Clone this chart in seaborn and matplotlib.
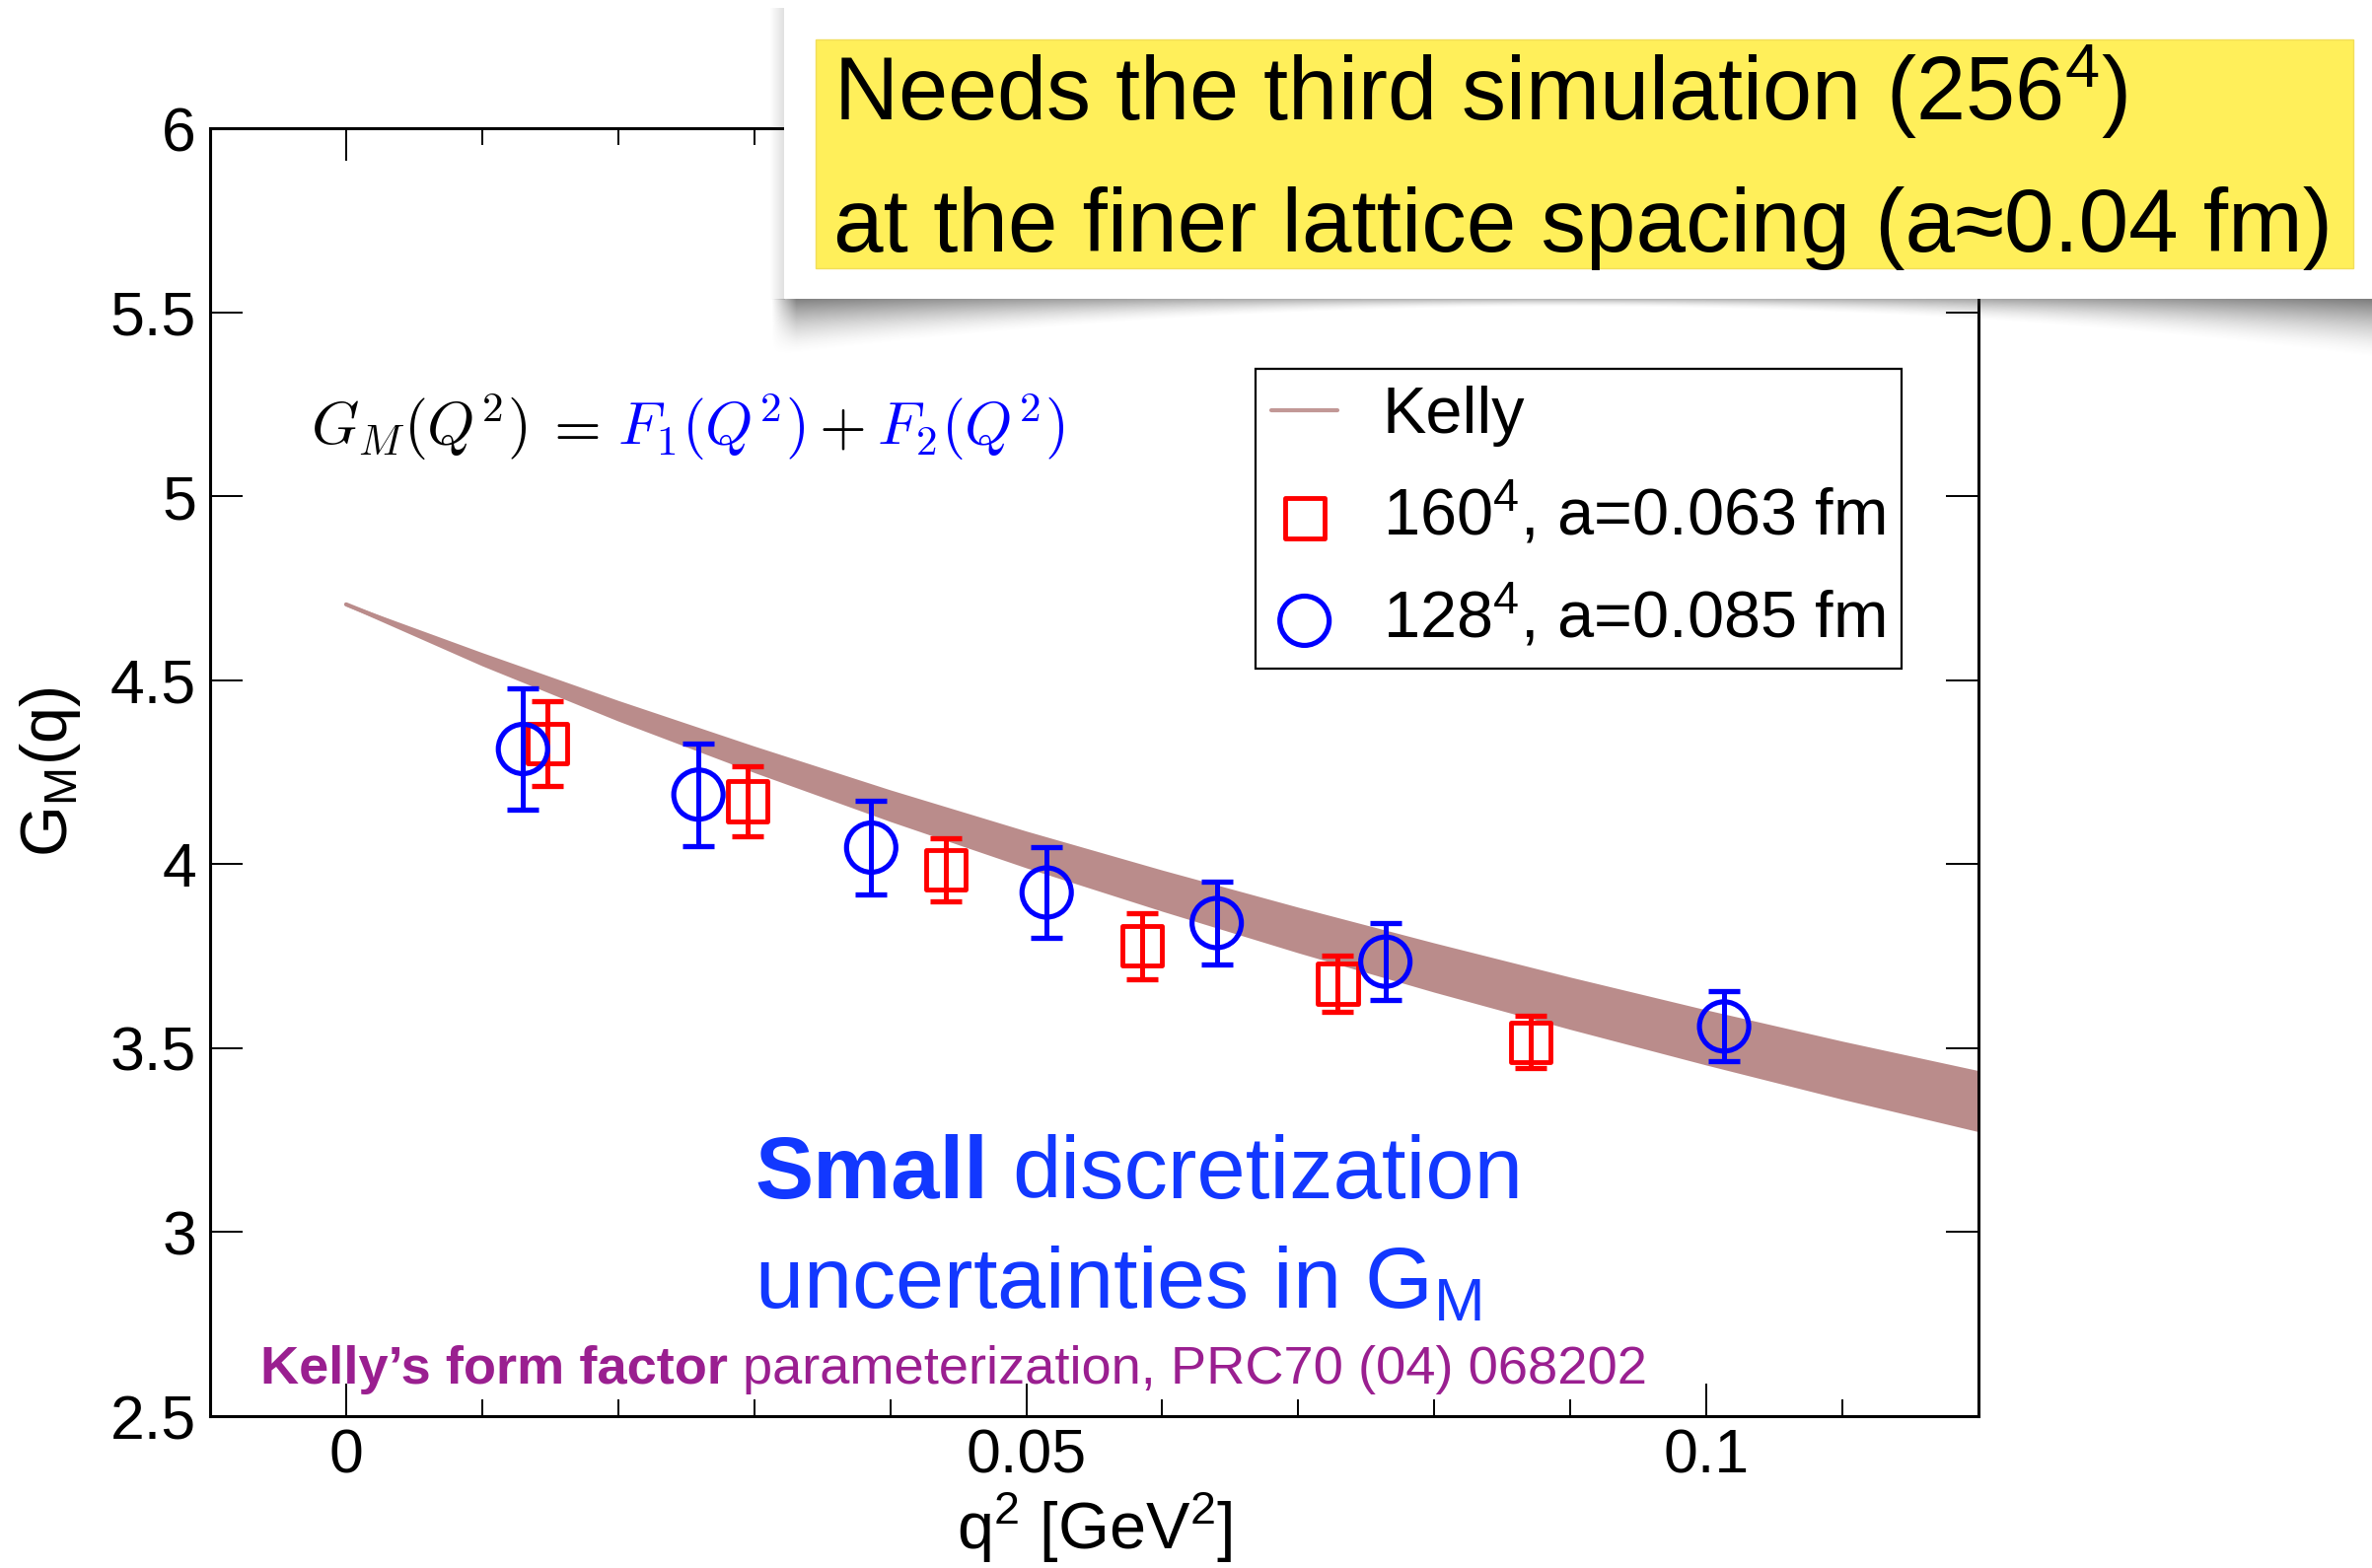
import numpy as np
import matplotlib
matplotlib.use("Agg")
import matplotlib.pyplot as plt
import seaborn as sns
from matplotlib.patches import Rectangle

# ---------------- data ----------------
kelly_q2 = [0.000, 0.010, 0.020, 0.030, 0.040, 0.050, 0.060, 0.070, 0.080, 0.090, 0.100, 0.110, 0.120]
kelly_center = [4.706, 4.557, 4.417, 4.285, 4.159, 4.040, 3.928, 3.821, 3.719, 3.622, 3.529, 3.440, 3.356]
kelly_upper = [4.710, 4.575, 4.445, 4.321, 4.202, 4.090, 3.984, 3.883, 3.786, 3.693, 3.604, 3.519, 3.439]
kelly_lower = [4.702, 4.539, 4.389, 4.249, 4.116, 3.990, 3.872, 3.759, 3.652, 3.551, 3.454, 3.361, 3.273]

q2_160 = [0.0148, 0.0295, 0.0441, 0.0585, 0.0729, 0.0871]
gm_160 = [4.328, 4.171, 3.984, 3.778, 3.675, 3.516]
err_160 = [0.116, 0.094, 0.086, 0.090, 0.076, 0.071]

q2_128 = [0.0130, 0.0259, 0.0386, 0.0515, 0.0640, 0.0764, 0.1013]
gm_128 = [4.313, 4.189, 4.045, 3.923, 3.840, 3.735, 3.559]
err_128 = [0.164, 0.140, 0.126, 0.123, 0.112, 0.104, 0.095]

xtick_vals = [0.0, 0.05, 0.1]
xtick_labels = ["0", "0.05", "0.1"]
ytick_vals = [2.5, 3.0, 3.5, 4.0, 4.5, 5.0, 5.5, 6.0]
ytick_labels = ["2.5", "3", "3.5", "4", "4.5", "5", "5.5", "6"]

label_kelly = "Kelly"
label_160 = "160$^{4}$, a=0.063 fm"
label_128 = "128$^{4}$, a=0.085 fm"

# ---------------- style ----------------
sns.set_theme(style="ticks")
plt.rcParams["font.family"] = ["Liberation Sans", "DejaVu Sans"]
plt.rcParams["mathtext.fontset"] = "custom"
plt.rcParams["mathtext.rm"] = "Liberation Sans"
plt.rcParams["mathtext.it"] = "Liberation Sans:italic"
plt.rcParams["mathtext.bf"] = "Liberation Sans:bold"
plt.rcParams["text.color"] = "black"
plt.rcParams["axes.labelcolor"] = "black"
plt.rcParams["xtick.color"] = "black"
plt.rcParams["ytick.color"] = "black"

W, H, DPI = 2405, 1590, 100
fig = plt.figure(figsize=(W / DPI, H / DPI), dpi=DPI, facecolor="white")
ax = fig.add_axes([213 / W, 1 - 1436 / H, (2006 - 213) / W, (1436 - 130) / H])
ax.set_facecolor("white")

BAND = "#BA8C8B"
ax.fill_between(kelly_q2, kelly_lower, kelly_upper, color=BAND, lw=0, zorder=2)
sns.lineplot(x=kelly_q2, y=kelly_center, color=BAND, lw=3, label=label_kelly, ax=ax, zorder=2)

ax.errorbar(q2_160, gm_160, yerr=err_160, fmt="none", ecolor="red", elinewidth=3.6,
            capsize=11.5, capthick=3.8, zorder=3)
ax.errorbar(q2_128, gm_128, yerr=err_128, fmt="none", ecolor="blue", elinewidth=3.6,
            capsize=11.5, capthick=3.8, zorder=3)
sns.scatterplot(x=q2_160, y=gm_160, marker="s", s=29 ** 2, facecolors="none",
                edgecolor="red", linewidth=3.5, label=label_160, ax=ax, zorder=4)
sns.scatterplot(x=q2_128, y=gm_128, marker="o", s=36 ** 2, facecolors="none",
                edgecolor="blue", linewidth=3.7, label=label_128, ax=ax, zorder=4)

ax.set_xlim(-0.01, 0.12)
ax.set_ylim(2.5, 6.0)
ax.set_xticks(xtick_vals)
ax.set_xticklabels(xtick_labels)
ax.set_xticks([0.01 * k for k in range(1, 12)], minor=True)
ax.set_yticks(ytick_vals)
ax.set_yticklabels(ytick_labels)
ax.tick_params(which="both", direction="in", top=True, right=True, colors="black")
ax.tick_params(which="major", length=24, width=1.4, labelsize=45)
ax.tick_params(which="minor", length=12, width=1.4)
ax.tick_params(axis="x", which="major", pad=8)
ax.tick_params(axis="y", which="major", pad=10)
for sp in ax.spines.values():
    sp.set_linewidth(2.2)
    sp.set_color("black")
    sp.set_visible(True)

ax.set_xlabel("q$^{2}$ [GeV$^{2}$]", fontsize=48, labelpad=4, color="black")
ax.set_ylabel("G$_{\\rm M}$(q)", fontsize=48, labelpad=20, color="black")

handles, labels = ax.get_legend_handles_labels()
order = [labels.index(l) for l in (label_kelly, label_160, label_128)]
leg = ax.legend([handles[i] for i in order], [labels[i] for i in order],
                loc="upper left", bbox_to_anchor=(0.591, 0.813), borderaxespad=0,
                fontsize=48, frameon=True, fancybox=False, framealpha=1,
                edgecolor="black", handlelength=1.0, handletextpad=0.69,
                borderpad=0.25, labelspacing=0.53)
leg.get_frame().set_linewidth(1.6)
for t in leg.get_texts():
    t.set_color("black")
for ln in leg.get_lines():
    ln.set_color("#C29896")

# ---------------- helper to place styled text runs ----------------
renderer = fig.canvas.get_renderer()


def make_run(parts, x0, yb, target_w, size, zorder=10):
    texts = []
    for s, kw, g in parts:
        texts.append(fig.text(0, 0, s, fontsize=size, va="baseline", ha="left",
                              zorder=zorder, **kw))

    def layout():
        x = x0
        for t, (s, kw, g) in zip(texts, parts):
            x += g * t.get_fontsize() * DPI / 72
            t.set_position((x / W, 1 - yb / H))
            x += t.get_window_extent(renderer).width
        return x - x0

    w = layout()
    for t in texts:
        t.set_fontsize(t.get_fontsize() * target_w / w)
    layout()
    return texts


# formula
BLUE = "#0000FF"
cm = dict(math_fontfamily="cm")
make_run([("$G_M(Q^2)$", dict(color="black", **cm), 0.0),
          ("$=$", dict(color="black", **cm), 0.28),
          ("$F_1(Q^2)$", dict(color=BLUE, **cm), 0.28),
          ("$+$", dict(color="black", **cm), 0.22),
          ("$F_2(Q^2)$", dict(color=BLUE, **cm), 0.22)],
         315, 451, 766, 41)

# "Small discretization uncertainties in G_M"
SBLUE = "#1238FF"
make_run([("Small", dict(color=SBLUE, fontweight="bold"), 0.0),
          ("discretization", dict(color=SBLUE), 0.28)],
         765, 1215, 780, 60)
make_run([("uncertainties in G$_{\\rm M}$", dict(color=SBLUE), 0.0)],
         765, 1326, 738, 60)

# reference line
PURPLE = "#9A1F90"
make_run([("Kelly\u2019s form factor", dict(color=PURPLE, fontweight="bold"), 0.0),
          ("parameterization, PRC70 (04) 068202", dict(color=PURPLE), 0.28)],
         264, 1403, 1405, 37)

# ---------------- overlay panel with yellow note ----------------
xs = np.arange(780, W)
ys = np.arange(300, 375)
XX, YY = np.meshgrid(xs, ys)
xc, half = 1590.0, 815.0
u = ((XX - xc) / half) ** 2
depth = 8 + 52 * u
amax = 0.38 + 0.30 * u
frac = np.clip(1 - (YY - 303) / depth, 0, 1)
alpha = amax * frac ** 1.6
alpha[YY < 303] = 0
alpha *= np.clip((XX - 782) / 25.0, 0, 1)
shadow = np.zeros(XX.shape + (4,))
shadow[..., :3] = 0.25
shadow[..., 3] = alpha
fig.figimage(shadow, xo=780, yo=H - 375, origin="upper", zorder=6)

xs2 = np.arange(780, 796)
ys2 = np.arange(8, 304)
XX2, YY2 = np.meshgrid(xs2, ys2)
a2 = 0.18 * np.clip((XX2 - 780) / 15.0, 0, 1)
sh2 = np.zeros(XX2.shape + (4,))
sh2[..., :3] = 0.3
sh2[..., 3] = a2
fig.figimage(sh2, xo=780, yo=H - 304, origin="upper", zorder=6)

panel = Rectangle((795 / W, 1 - 303 / H), 1.0, (303 - 8) / H, transform=fig.transFigure,
                  facecolor="white", edgecolor="none", zorder=7)
fig.add_artist(panel)
yellow = Rectangle((827 / W, 1 - 272 / H), (2386 - 827) / W, (272 - 40) / H,
                   transform=fig.transFigure, facecolor="#FFEF5A", edgecolor="#F2DE5A",
                   lw=1.0, zorder=8)
fig.add_artist(yellow)

make_run([("Needs the third simulation (256$^{4}$)", dict(color="black"), 0.0)],
         845, 122, 1313, 60, zorder=9)
make_run([("at the finer lattice spacing (a\u22480.04 fm)", dict(color="black"), 0.0)],
         845, 255, 1521, 60, zorder=9)

fig.savefig("out.png", dpi=DPI, facecolor="white")
